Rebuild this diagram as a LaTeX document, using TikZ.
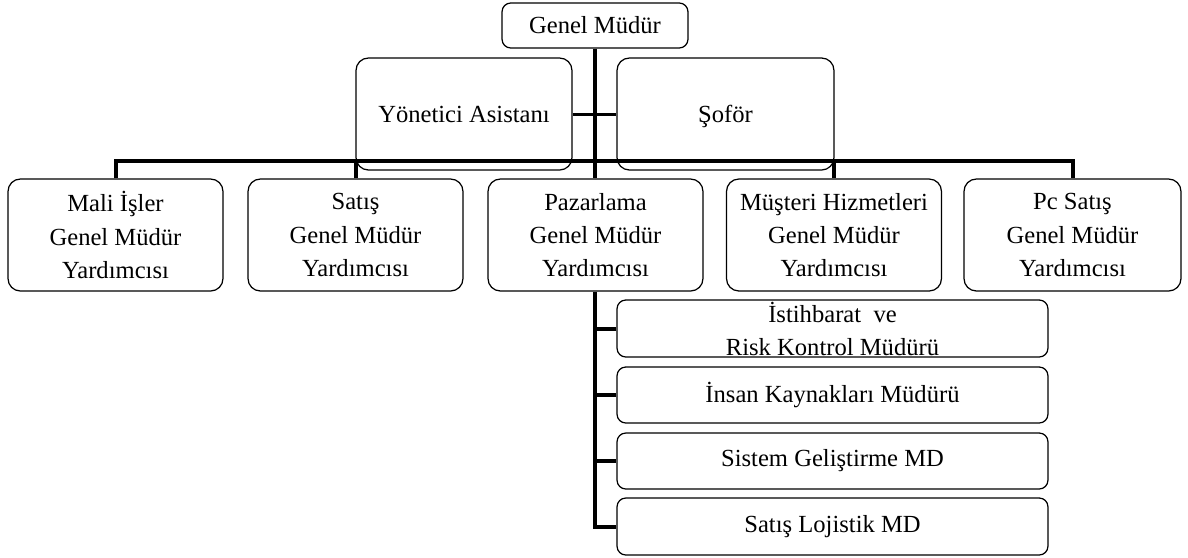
\documentclass[tikz,border=0pt]{standalone}
\usepackage{fontspec}
\setmainfont{Liberation Serif}
\begin{document}
\begin{tikzpicture}[x=0.02cm,y=-0.02cm,
  box/.style={draw=black,line width=0.7pt,rounded corners=#1,inner sep=0pt,align=center,
    font=\fontsize{14}{19}\selectfont},
  box/.default=7pt,
  conn/.style={line width=0.08cm},
  aconn/.style={line width=0.06cm},
  txt/.style={inner sep=0pt,align=center,font=\fontsize{14}{19}\selectfont}]
\useasboundingbox (0,0) rectangle (1188,558);
% top
\node[box=5pt,minimum width=3.72cm,minimum height=0.9cm] (gm) at (595,25.5) {Genel Müdür};
\node[box,minimum width=4.32cm,minimum height=2.24cm] (ya) at (464,114) {Yönetici Asistanı};
\node[box,minimum width=4.34cm,minimum height=2.24cm] (sf) at (725.5,114) {\raisebox{0pt}[\height][0pt]{Şoför}};
% row
\node[box,minimum width=4.3cm,minimum height=2.24cm] (mali) at (115.5,235) {Mali İşler\\Genel Müdür\\Yardımcısı};
\node[box,minimum width=4.3cm,minimum height=2.24cm] (sat) at (355.5,235) {Satış\\Genel Müdür\\Yardımcısı};
\node[box,minimum width=4.3cm,minimum height=2.24cm] (paz) at (595.5,235) {Pazarlama\\Genel Müdür\\Yardımcısı};
\node[box,minimum width=4.3cm,minimum height=2.24cm] (mus) at (834,235) {Müşteri Hizmetleri\\Genel Müdür\\Yardımcısı};
\node[box,minimum width=4.34cm,minimum height=2.24cm] (pc) at (1072.5,235) {Pc Satış\\Genel Müdür\\Yardımcısı};
% sub boxes
\node[box=5pt,minimum width=8.62cm,minimum height=1.14cm] (s1) at (832.5,328.5) {};
\node[txt] (s1t) at (832.5,329) {İstihbarat\ \ ve\\Risk Kontrol Müdürü};
\node[box=5pt,minimum width=8.62cm,minimum height=1.12cm] (s2) at (832.5,395) {İnsan Kaynakları Müdürü};
\node[box=5pt,minimum width=8.62cm,minimum height=1.12cm] (s3) at (832.5,461) {Sistem Geliştirme MD};
\node[box=5pt,minimum width=8.62cm,minimum height=1.14cm] (s4) at (832.5,526.5) {Satış Lojistik MD};
% connectors
\coordinate (bus) at (595,161);
\draw[conn] (gm.south) -- (gm.south |- paz.north);
\draw[aconn] (ya.east) -- (sf.west);
\draw[conn] (mali.north) |- (bus) -| (pc.north);
\draw[conn] (sat.north) -- (sat.north |- bus);
\draw[conn] (mus.north) -- (mus.north |- bus);
\draw[conn] (gm.south |- paz.south) |- (s4.west);
\draw[conn] (s1.west) -- (s1.west -| gm.south);
\draw[conn] (s2.west) -- (s2.west -| gm.south);
\draw[conn] (s3.west) -- (s3.west -| gm.south);
\end{tikzpicture}
\end{document}
